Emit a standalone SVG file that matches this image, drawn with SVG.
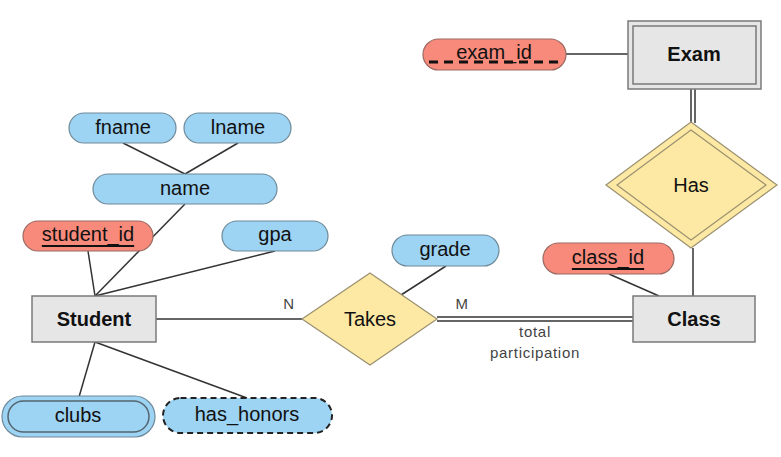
<svg xmlns="http://www.w3.org/2000/svg" width="781" height="457" viewBox="0 0 781 457">
<style>
text{font-family:"Liberation Sans",Arial,sans-serif;fill:#111;text-anchor:middle;dominant-baseline:central}
.lbl{font-size:20px}
.ent{font-size:20px;font-weight:bold}
.small{font-size:15px;fill:#444;letter-spacing:0.7px}
.attr{fill:#9dd3f3;stroke:#6e8a9a;stroke-width:1.2}
.key{fill:#f78a7b;stroke:#9a6a62;stroke-width:1.2}
.rect{fill:#e6e6e6;stroke:#7a7a7a;stroke-width:1.5}
.rel{fill:#fde9a3;stroke:#9a9070;stroke-width:1.2}
.ln{stroke:#333;stroke-width:1.5;fill:none}
</style>
<rect width="781" height="457" fill="#fff"/>
<g id="connectors">
<line class="ln" x1="566" y1="54" x2="628" y2="54"/>
<line class="ln" x1="691" y1="89" x2="691" y2="123"/>
<line class="ln" x1="695" y1="89" x2="695" y2="123"/>
<line class="ln" x1="693" y1="248" x2="693" y2="296"/>
<line class="ln" x1="609" y1="274" x2="659" y2="296"/>
<line class="ln" x1="446" y1="266" x2="401" y2="295"/>
<line class="ln" x1="156" y1="319" x2="302" y2="319"/>
<line class="ln" x1="437" y1="317" x2="633" y2="317"/>
<line class="ln" x1="437" y1="321" x2="633" y2="321"/>
<line class="ln" x1="123" y1="143" x2="185" y2="174"/>
<line class="ln" x1="238" y1="143" x2="185" y2="174"/>
<line class="ln" x1="88" y1="251" x2="95" y2="296"/>
<line class="ln" x1="185" y1="204" x2="95" y2="296"/>
<line class="ln" x1="275" y1="251" x2="95" y2="296"/>
<line class="ln" x1="95" y1="342" x2="79" y2="397"/>
<line class="ln" x1="95" y1="342" x2="247" y2="398"/>
</g>
<g id="exam">
<rect class="rect" x="628" y="21" width="133" height="68"/>
<rect x="633" y="26" width="123" height="58" fill="none" stroke="#7a7a7a" stroke-width="1.5"/>
<text class="ent" x="694" y="54">Exam</text>
</g>
<g id="exam_id">
<rect class="key" x="423" y="39" width="143" height="31" rx="15.5"/>
<text class="lbl" x="494" y="52">exam_id</text>
<line x1="429" y1="62" x2="560" y2="62" stroke="#111" stroke-width="3" stroke-dasharray="9 6"/>
</g>
<g id="has">
<polygon class="rel" points="691,122 777,185 691,248 606,185"/>
<polygon points="691,130 766,185 691,240 617,185" fill="none" stroke="#9a9070" stroke-width="1.2"/>
<text class="lbl" x="691" y="185">Has</text>
</g>
<g id="class">
<rect class="rect" x="633" y="296" width="122" height="46"/>
<text class="ent" x="694" y="319">Class</text>
</g>
<g id="class_id">
<rect class="key" x="543" y="243" width="131" height="31" rx="15.5"/>
<text class="lbl" x="608" y="257" text-decoration="underline">class_id</text>
</g>
<g id="takes">
<polygon class="rel" points="370,273 437,319 370,365 302,319"/>
<text class="lbl" x="370" y="319">Takes</text>
</g>
<g id="grade">
<rect class="attr" x="392" y="235" width="107" height="31" rx="15.5"/>
<text class="lbl" x="445" y="249">grade</text>
</g>
<g id="labels">
<text class="small" x="289" y="303">N</text>
<text class="small" x="462" y="303">M</text>
<text class="small" x="535" y="331">total</text>
<text class="small" x="535" y="352">participation</text>
</g>
<g id="student">
<rect class="rect" x="32" y="296" width="124" height="46"/>
<text class="ent" x="94" y="319">Student</text>
</g>
<g id="fname">
<rect class="attr" x="69" y="113" width="107" height="30" rx="15"/>
<text class="lbl" x="123" y="127">fname</text>
</g>
<g id="lname">
<rect class="attr" x="184" y="113" width="107" height="30" rx="15"/>
<text class="lbl" x="238" y="127">lname</text>
</g>
<g id="name">
<rect class="attr" x="93" y="174" width="184" height="30" rx="15"/>
<text class="lbl" x="185" y="188">name</text>
</g>
<g id="student_id">
<rect class="key" x="23" y="221" width="130" height="30" rx="15"/>
<text class="lbl" x="88" y="234" text-decoration="underline">student_id</text>
</g>
<g id="gpa">
<rect class="attr" x="222" y="221" width="106" height="30" rx="15"/>
<text class="lbl" x="275" y="234">gpa</text>
</g>
<g id="clubs">
<rect class="attr" x="2" y="396" width="153" height="41" rx="20.5"/>
<rect x="8" y="401" width="141" height="31" rx="15.5" fill="none" stroke="#55656e" stroke-width="1.5"/>
<text class="lbl" x="78" y="415">clubs</text>
</g>
<g id="has_honors">
<rect x="163" y="398" width="169" height="35" rx="17.5" fill="#9dd3f3" stroke="#222" stroke-width="2" stroke-dasharray="6 4"/>
<text class="lbl" x="247" y="414">has_honors</text>
</g>
</svg>
